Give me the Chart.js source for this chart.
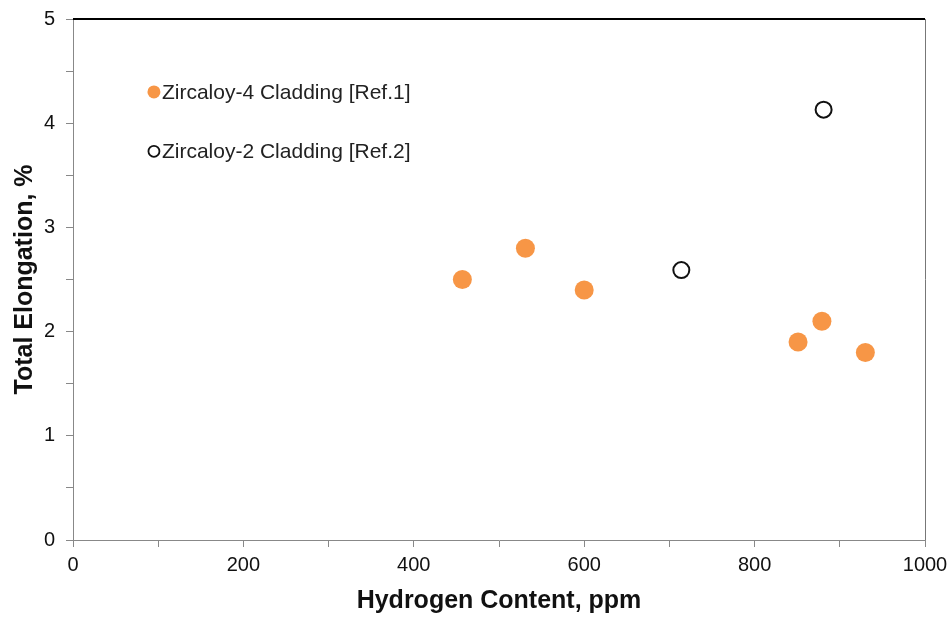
<!DOCTYPE html>
<html>
<head>
<meta charset="utf-8">
<script src="https://cdn.jsdelivr.net/npm/chart.js@4/dist/chart.umd.min.js"></script>
<style>
  html, body { margin: 0; padding: 0; background: #fff; }
  #wrap { width: 951px; height: 617px; }
</style>
</head>
<body>
<div id="wrap"><canvas id="chart" width="951" height="617"></canvas></div>
<script>
// Zircaloy-4 cladding [Ref.1]
var zr4Hydrogen = [457, 531, 600, 851, 879, 930];
var zr4Elongation = [2.5, 2.8, 2.4, 1.9, 2.1, 1.8];
// Zircaloy-2 cladding [Ref.2]
var zr2Hydrogen = [714, 881];
var zr2Elongation = [2.59, 4.13];

var seriesNames = ['Zircaloy-4 Cladding [Ref.1]', 'Zircaloy-2 Cladding [Ref.2]'];

function toPoints(xs, ys) {
    return xs.map((x, i) => ({ x: x, y: ys[i] }));
}

// legend drawn inside the plot, like the original
var insideLegend = {
    id: 'insideLegend',
    afterDraw(chart) {
        var ctx = chart.ctx;
        var xs = chart.scales.x, ys = chart.scales.y;
        var rows = [
            { label: seriesNames[0], y: 4.3, fill: '#F79646', stroke: null },
            { label: seriesNames[1], y: 3.73, fill: null, stroke: '#111' }
        ];
        var px = xs.getPixelForValue(95);
        ctx.save();
        ctx.font = '21px "Liberation Sans", Arial, sans-serif';
        ctx.textBaseline = 'middle';
        rows.forEach(r => {
            var py = ys.getPixelForValue(r.y);
            ctx.beginPath();
            ctx.arc(px, py, r.fill ? 6.5 : 5.5, 0, Math.PI * 2);
            if (r.fill) { ctx.fillStyle = r.fill; ctx.fill(); }
            if (r.stroke) { ctx.lineWidth = 1.8; ctx.strokeStyle = r.stroke; ctx.stroke(); }
            ctx.fillStyle = '#222';
            ctx.fillText(r.label, px + 8, py + 1);
        });
        // top and right frame
        var a = chart.chartArea;
        ctx.beginPath();
        ctx.lineWidth = 2;
        ctx.strokeStyle = '#000';
        ctx.moveTo(a.left, a.top);
        ctx.lineTo(a.right, a.top);
        ctx.stroke();
        ctx.beginPath();
        ctx.lineWidth = 1;
        ctx.strokeStyle = '#777';
        ctx.moveTo(a.right + 0.5, a.top);
        ctx.lineTo(a.right + 0.5, a.bottom);
        ctx.stroke();
        ctx.restore();
    }
};

new Chart(document.getElementById('chart'), {
    type: 'scatter',
    data: {
        datasets: [{
            label: seriesNames[0],
            data: toPoints(zr4Hydrogen, zr4Elongation),
            backgroundColor: '#F79646',
            borderColor: '#F79646',
            borderWidth: 0,
            pointRadius: 9.5
        }, {
            label: seriesNames[1],
            data: toPoints(zr2Hydrogen, zr2Elongation),
            backgroundColor: 'rgba(255,255,255,0)',
            borderColor: '#111',
            borderWidth: 2,
            pointRadius: 8
        }]
    },
    options: {
        responsive: false,
        animation: false,
        layout: { padding: { top: 19, right: 26, left: 0, bottom: 0 } },
        plugins: {
            legend: { display: false },
            tooltip: { enabled: false }
        },
        scales: {
            x: {
                type: 'linear',
                min: 0,
                max: 1000,
                afterFit(s) { s.height = 77; s.paddingRight = 0; s.paddingLeft = 0; },
                ticks: {
                    stepSize: 100,
                    autoSkip: false,
                    maxRotation: 0,
                    padding: 6,
                    color: '#111',
                    font: { family: '"Liberation Sans", Arial, sans-serif', size: 20 },
                    callback: v => (v % 200 === 0 ? v : '')
                },
                grid: { drawOnChartArea: false, drawTicks: true, tickLength: 7, color: '#888' },
                border: { color: '#888', width: 1 },
                title: {
                    display: true,
                    text: 'Hydrogen Content, ppm',
                    color: '#111',
                    font: { family: '"Liberation Sans", Arial, sans-serif', size: 25, weight: 'bold' },
                    padding: { top: 1, bottom: 1 }
                }
            },
            y: {
                type: 'linear',
                min: 0,
                max: 5,
                afterFit(s) { s.width = 73; s.paddingTop = 0; s.paddingBottom = 0; },
                ticks: {
                    stepSize: 0.5,
                    autoSkip: false,
                    padding: 11,
                    color: '#111',
                    font: { family: '"Liberation Sans", Arial, sans-serif', size: 20 },
                    callback: v => (Number.isInteger(v) ? v : '')
                },
                grid: { drawOnChartArea: false, drawTicks: true, tickLength: 7, color: '#888' },
                border: { color: '#888', width: 1 },
                title: {
                    display: true,
                    text: 'Total Elongation, %',
                    color: '#111',
                    font: { family: '"Liberation Sans", Arial, sans-serif', size: 25, weight: 'bold' },
                    padding: { top: 10, bottom: 10 }
                }
            }
        }
    },
    plugins: [insideLegend]
});
</script>
</body>
</html>
